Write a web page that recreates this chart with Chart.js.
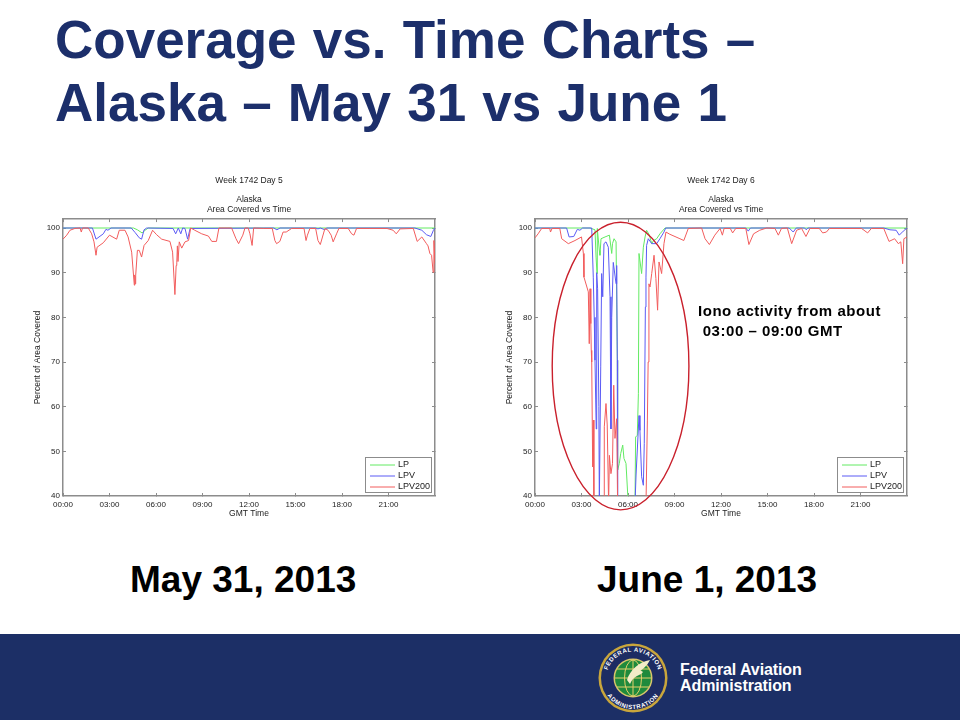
<!DOCTYPE html>
<html>
<head>
<meta charset="utf-8">
<script src="https://cdn.jsdelivr.net/npm/chart.js@4"></script>
<style>
  html, body { margin: 0; padding: 0; background: #fff; }
  #slide { position: relative; width: 960px; height: 720px; overflow: hidden; font-family: "Liberation Sans", Arial, sans-serif; }
  #slide canvas { position: absolute; top: 176px; }
  .txt { position: absolute; white-space: pre; font-weight: bold; }
  .head { left: 55px; color: #1c2f6b; font-size: 53px; line-height: 63px; word-spacing: 1.5px; }
  .date { top: 558px; color: #000; font-size: 37px; line-height: 44px; }
  .iono { color: #000; font-size: 15px; line-height: 18px; letter-spacing: 0.54px; }
  #band { position: absolute; left: 0; top: 634px; width: 960px; height: 86px; background: #1c2f66; }
  .faa { left: 680px; color: #fff; font-size: 16px; line-height: 16px; letter-spacing: -0.1px; }
  #seal { position: absolute; left: 597px; top: 642px; }
</style>
</head>
<body>
<div id="slide">
  <div class="txt head" style="top:8px">Coverage vs. Time Charts –</div>
  <div class="txt head" style="top:71px">Alaska – May 31 vs June 1</div>
  <canvas id="day5" width="430" height="349" style="left:20px"></canvas>
  <canvas id="day6" width="430" height="349" style="left:492px"></canvas>
  <div class="txt iono" style="left:698px;top:302px">Iono activity from about</div>
  <div class="txt iono" style="left:698px;top:322px"> 03:00 – 09:00 GMT</div>
  <div class="txt date" style="left:130px">May 31, 2013</div>
  <div class="txt date" style="left:597px">June 1, 2013</div>
  <div id="band"></div>
  <svg id="seal" width="72" height="72" viewBox="0 0 72 72">
    <defs><path id="ringTop" d="M9.5 36a26.500 26.500 0 0 1 53 0"/><path id="ringBot" d="M5 36a31 31 0 0 0 62 0"/></defs>
    <circle cx="36" cy="36" r="34.500" fill="#c9a63c"/>
    <circle cx="36" cy="36" r="32" fill="#1d2c63"/>
    <circle cx="36" cy="36" r="19.500" fill="#d8c66a"/>
    <circle cx="36" cy="36" r="18" fill="#1f8a3c"/>
    <g fill="none" stroke="#e3cf6a" stroke-width="1">
      <ellipse cx="36" cy="36" rx="8.500" ry="18"/>
      <path d="M36 18V54M18 36H54M20 27H52M20 45H52"/>
    </g>
    <path d="M30 38C33 28 42 20 53 18C50 24 46 27 43 29C46 29 47 30 44 32C40 34 36 35 33 42Z" fill="#f3ecc8"/>
    <g fill="#fff" font-size="6" font-weight="bold" font-family="Liberation Sans, Arial, sans-serif" letter-spacing="0.6">
      <text text-anchor="middle"><textPath href="#ringTop" startOffset="50%">FEDERAL AVIATION</textPath></text>
      <text text-anchor="middle"><textPath href="#ringBot" startOffset="50%">ADMINISTRATION</textPath></text>
    </g>
  </svg>
  <div class="txt faa" style="top:662px">Federal Aviation</div>
  <div class="txt faa" style="top:678px">Administration</div>
</div>
<script>
const hourTicks = [0, 3, 6, 9, 12, 15, 18, 21];
const hourLabels = ['00:00', '03:00', '06:00', '09:00', '12:00', '15:00', '18:00', '21:00'];
const percentTicks = [40, 50, 60, 70, 80, 90, 100];
const seriesNames = ['LP', 'LPV', 'LPV200'];
const seriesColors = ['#62ea62', '#5a5af5', '#f25c5c'];

// May 31 (day 5)
const day5LpHours = [0, 4.55, 4.8, 5.1, 5.3, 5.5, 24];
const day5LpValues = [100, 100, 99.6, 98.9, 99.5, 100, 100];
const day5LpvHours = [0, 1.9, 2.13, 2.6, 2.77, 2.9, 3.1, 4.4, 4.65, 4.92, 5.07, 5.23, 5.4, 7.1, 7.27, 7.44, 7.6, 7.72, 7.87, 8.04, 8.2, 13.6, 13.8, 14, 16.3, 16.45, 16.6, 16.9, 17, 22.7, 23.15, 23.45, 23.73, 23.9, 24];
const day5LpvValues = [100, 100, 97.5, 98.7, 99.7, 99.5, 100, 100, 99, 97.8, 97.5, 99.6, 100, 99.9, 98.7, 100, 98.7, 100, 99.9, 97.5, 99.9, 100, 99.6, 100, 100, 99.8, 100, 99.6, 100, 100, 99.5, 98.5, 98.1, 99.5, 100];
const day5Lpv200Hours = [0, 0.24, 0.45, 0.77, 1.1, 1.18, 1.26, 1.63, 1.85, 2, 2.13, 2.2, 2.6, 3, 3.46, 3.63, 4, 4.2, 4.43, 4.6, 4.63, 4.66, 4.69, 4.8, 4.92, 5.07, 5.23, 5.5, 5.78, 6.04, 6.37, 6.9, 7.07, 7.22, 7.3, 7.34, 7.38, 7.42, 7.5, 7.66, 7.87, 8.1, 8.24, 8.5, 8.95, 9.38, 9.6, 9.9, 10.06, 10.88, 11.16, 11.33, 11.6, 11.74, 11.95, 12.06, 12.2, 12.3, 12.92, 13.5, 13.67, 13.78, 13.99, 14.2, 14.4, 14.75, 15.55, 15.68, 15.77, 15.93, 16.3, 16.45, 16.6, 16.9, 17.1, 17.3, 17.43, 17.65, 17.8, 18.4, 18.62, 18.77, 18.94, 19.8, 20.9, 21.3, 21.5, 21.75, 22.6, 22.85, 23.15, 23.45, 23.55, 23.67, 23.78, 23.88, 23.93, 24];
const day5Lpv200Values = [97.5, 98.4, 99.5, 99.9, 100, 99.1, 100, 100, 98.7, 96.9, 93.9, 95.7, 96.7, 98.4, 97.5, 99.5, 99.5, 98, 94.6, 87.2, 89.5, 87.5, 89.4, 95, 95, 93.5, 96.1, 97.2, 99.5, 98.5, 97.5, 97, 94.6, 85.1, 91.6, 92.2, 96, 92.5, 96.9, 95.5, 96.9, 97.2, 100, 99.5, 98.7, 98.2, 97, 97, 100, 100, 97.6, 96.5, 98.4, 100, 100, 98.7, 96.1, 100, 99.9, 99.9, 97.2, 96.5, 97, 99.1, 99.1, 99.9, 99.9, 97.2, 98.4, 99.9, 99.9, 97.2, 96.3, 99.9, 99.5, 98.4, 96.9, 98.7, 99.9, 99.9, 98.7, 98.4, 99.9, 99.9, 99.9, 99.5, 98.7, 99.8, 99.9, 97, 98, 96.5, 96, 94.3, 93.9, 90.1, 97.2, 92];

// June 1 (day 6)
const day6LpHours = [0, 3.55, 3.87, 3.94, 4, 4.02, 4.15, 4.19, 4.26, 4.52, 4.8, 4.95, 5, 5.1, 5.23, 5.31, 5.33, 5.44, 5.53, 5.66, 5.74, 5.87, 6.02, 6.45, 6.49, 6.6, 6.67, 6.71, 6.88, 6.99, 7.1, 7.2, 7.38, 7.53, 7.65, 7.85, 8.06, 8.39, 24];
const day6LpValues = [100, 100, 99.6, 93.5, 89.8, 99.9, 95, 93.9, 97.6, 98, 98.4, 94.3, 96.5, 97.6, 96.9, 70.4, 45.8, 47.3, 49.5, 51.4, 48.4, 47.3, 38, 38, 53.2, 53.6, 62.9, 94.3, 89.8, 95.7, 98, 99.5, 98.4, 96.5, 97.2, 97.6, 98.7, 100, 100];
const day6LpvHours = [0, 2.04, 2.2, 2.5, 2.73, 2.9, 3.07, 3.66, 3.76, 3.82, 3.87, 3.95, 3.98, 4.04, 4.12, 4.15, 4.17, 4.24, 4.3, 4.37, 4.45, 4.58, 4.73, 4.84, 4.9, 4.95, 5.05, 5.23, 5.27, 5.31, 5.33, 6.45, 6.52, 6.71, 6.77, 6.88, 6.99, 7.05, 7.12, 7.16, 7.2, 7.31, 7.53, 7.85, 8.06, 8.32, 8.43, 13.6, 13.76, 13.9, 16.4, 16.66, 16.85, 17.4, 17.5, 17.6, 22.5, 22.9, 23.3, 23.5, 23.76, 24];
const day6LpvValues = [100, 100, 98, 98.1, 99.7, 99.5, 100, 100, 89, 80, 70.4, 55, 90, 86.4, 60, 38, 38, 68.9, 89.8, 84.6, 96.5, 96.9, 95.7, 84.6, 55, 80, 92.3, 87.5, 91.6, 70.4, 38, 38, 44.7, 58, 54.7, 44.3, 42.4, 51.8, 82.3, 89, 96.1, 97.6, 96.5, 96.5, 97.6, 99.1, 100, 100, 99.3, 100, 100, 99.1, 100, 100, 99.6, 100, 100, 99.6, 99.5, 98.4, 99.3, 100];
const day6Lpv200Hours = [0, 0.2, 0.43, 0.95, 1, 1.1, 1.6, 1.72, 2.15, 2.58, 3, 3.12, 3.16, 3.44, 3.5, 3.55, 3.6, 3.63, 3.66, 3.72, 3.76, 3.8, 4.47, 4.47, 4.58, 4.66, 4.75, 4.8, 4.9, 5, 5.08, 5.16, 5.27, 5.33, 7.16, 7.25, 7.3, 7.35, 7.42, 7.53, 7.68, 7.8, 7.91, 8, 8.17, 8.32, 8.45, 8.7, 9.35, 9.6, 9.89, 10.75, 10.97, 11.25, 11.6, 11.94, 12.09, 12.2, 12.6, 12.75, 12.95, 13.6, 13.8, 14.1, 14.5, 14.95, 15.48, 15.7, 15.9, 16.28, 16.56, 16.88, 17.2, 17.48, 17.74, 18.34, 18.56, 18.8, 19, 19.68, 21.07, 21.46, 21.7, 22.5, 22.84, 23.2, 23.44, 23.6, 23.72, 23.8, 24];
const day6Lpv200Values = [97.8, 98.7, 99.9, 99.9, 99.1, 99.9, 99.9, 97.6, 96.5, 97.2, 98, 94.3, 89, 85.7, 74.1, 86.4, 78.6, 72.6, 70, 46.5, 57, 38, 38, 55.5, 60.7, 55.9, 38, 49.1, 45, 47.3, 64.8, 52.9, 57.3, 38, 38, 57, 70, 87.5, 86.8, 89.8, 93.9, 88.7, 81.6, 92.4, 89.8, 96.5, 99.1, 98.6, 97.6, 97.2, 99.9, 100, 97.6, 96.3, 98.4, 99.9, 98.4, 99.9, 99.9, 98.9, 99.9, 99.9, 96.3, 98.7, 99.5, 100, 99.9, 98.4, 99.9, 100, 96.5, 99.5, 99.9, 98.1, 99.9, 99.9, 98.9, 99.1, 99.9, 99.9, 99.9, 98.9, 99.9, 99.9, 97, 97.6, 96.5, 96.9, 92, 97.6, 98];

// ellipse round the ionospheric activity: centre hour, centre percent, half widths
const ionoEllipse = [5.52, 69.1, 4.41, 32.2];

const axisGrey = '#8c8c8c';
const labelFont = { family: '"Liberation Sans", Arial, sans-serif', size: 8 };
const titleFont = { family: '"Liberation Sans", Arial, sans-serif', size: 8.5, weight: 'normal' };

function pairs(xs, ys) {
  return xs.map((x, i) => ({ x: x, y: ys[i] }));
}

function fitHeight(h) { return scale => { scale.height = h; }; }
function fitWidth(w) { return scale => { scale.width = w; }; }

// MATLAB style legend box, lower right inside the axes
const legendBox = {
  id: 'legendBox',
  afterDraw(chart) {
    const c = chart.ctx, a = chart.chartArea;
    const left = a.right - 70, top = a.bottom - 39;
    c.save();
    c.strokeStyle = axisGrey;
    c.lineWidth = 1;
    c.fillStyle = '#fff';
    c.fillRect(left, top, 67, 36);
    c.strokeRect(left + 0.5, top + 0.5, 66, 35);
    c.font = '9px "Liberation Sans", Arial, sans-serif';
    c.textBaseline = 'middle';
    chart.data.datasets.forEach((ds, i) => {
      const y = top + 7.5 + i * 11;
      c.strokeStyle = ds.borderColor;
      c.beginPath();
      c.moveTo(left + 5, y + 0.5);
      c.lineTo(left + 30, y + 0.5);
      c.stroke();
      c.fillStyle = '#222';
      c.fillText(ds.label, left + 33, y);
    });
    c.restore();
  }
};

const ellipseMark = {
  id: 'ellipseMark',
  afterDraw(chart, args, opts) {
    if (!opts.shape) return;
    const xs = chart.scales.x, ys = chart.scales.y;
    const cx = xs.getPixelForValue(opts.shape[0]), cy = ys.getPixelForValue(opts.shape[1]);
    const rx = xs.getPixelForValue(opts.shape[0] + opts.shape[2]) - cx;
    const ry = cy - ys.getPixelForValue(opts.shape[1] + opts.shape[3]);
    const c = chart.ctx;
    c.save();
    c.strokeStyle = '#c9202c';
    c.lineWidth = 1.4;
    c.beginPath();
    c.ellipse(cx, cy, rx, ry, 0, 0, Math.PI * 2);
    c.stroke();
    c.restore();
  }
};

function drawCoverage(id, title, series, shape) {
  return new Chart(document.getElementById(id), {
    type: 'line',
    data: {
      datasets: series.map((s, i) => ({
        label: seriesNames[i],
        data: pairs(s[0], s[1]),
        borderColor: seriesColors[i],
        borderWidth: 1,
        pointRadius: 0,
        tension: 0,
        order: series.length - i   // LPV200 on top, LP underneath
      }))
    },
    plugins: [legendBox, ellipseMark],
    options: {
      responsive: false,
      animation: false,
      layout: { padding: { left: 0, right: 15, top: 0, bottom: 0 } },
      plugins: {
        legend: { display: false },
        tooltip: { enabled: false },
        ellipseMark: { shape: shape },
        title: {
          display: true,
          fullSize: false,
          text: [title, '', 'Alaska', 'Area Covered vs Time'],
          color: '#222',
          font: { family: titleFont.family, size: 8.5, weight: 'normal', lineHeight: 1.12 },
          padding: { top: 0, bottom: 5 }
        }
      },
      scales: {
        x: {
          type: 'linear', position: 'bottom', min: 0, max: 24,
          afterBuildTicks: s => { s.ticks = hourTicks.map(v => ({ value: v })); },
          afterFit: fitHeight(29),
          grid: { drawOnChartArea: false, tickLength: -3, color: axisGrey },
          border: { color: axisGrey, width: 1.5 },
          ticks: {
            autoSkip: false, maxRotation: 0, padding: 7, color: '#222', font: labelFont,
            callback: v => hourLabels[hourTicks.indexOf(v)]
          },
          title: { display: true, text: 'GMT Time', color: '#222', font: titleFont, padding: { top: 0, bottom: 6 } }
        },
        y: {
          type: 'linear', position: 'left', min: 40, max: 102,
          afterBuildTicks: s => { s.ticks = percentTicks.map(v => ({ value: v })); },
          afterFit: fitWidth(43),
          grid: { drawOnChartArea: false, tickLength: -3, color: axisGrey },
          border: { color: axisGrey, width: 1.5 },
          ticks: { padding: 6, color: '#222', font: labelFont },
          title: { display: true, text: 'Percent of Area Covered', color: '#222', font: titleFont, padding: { top: 13, bottom: 0 } }
        },
        x2: {
          type: 'linear', position: 'top', min: 0, max: 24,
          afterBuildTicks: s => { s.ticks = hourTicks.map(v => ({ value: v })); },
          afterFit: fitHeight(0),
          grid: { drawOnChartArea: false, tickLength: -3, color: axisGrey },
          border: { color: axisGrey, width: 1.5 },
          ticks: { display: false }
        },
        y2: {
          type: 'linear', position: 'right', min: 40, max: 102,
          afterBuildTicks: s => { s.ticks = percentTicks.map(v => ({ value: v })); },
          afterFit: fitWidth(0),
          grid: { drawOnChartArea: false, tickLength: -3, color: axisGrey },
          border: { color: axisGrey, width: 1.5 },
          ticks: { display: false }
        }
      }
    }
  });
}

drawCoverage('day5', 'Week 1742 Day 5', [
  [day5LpHours, day5LpValues],
  [day5LpvHours, day5LpvValues],
  [day5Lpv200Hours, day5Lpv200Values]
], null);

drawCoverage('day6', 'Week 1742 Day 6', [
  [day6LpHours, day6LpValues],
  [day6LpvHours, day6LpvValues],
  [day6Lpv200Hours, day6Lpv200Values]
], ionoEllipse);
</script>
</body>
</html>
